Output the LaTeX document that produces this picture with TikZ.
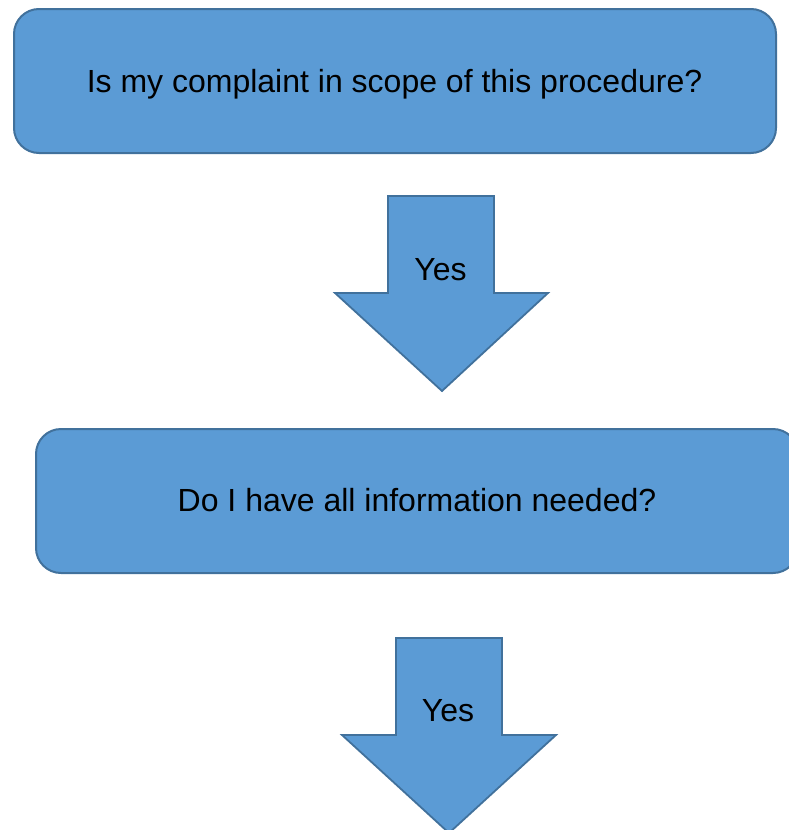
\documentclass[tikz,border=0pt]{standalone}
\usepackage{fontspec}
\setmainfont{Liberation Sans}
\definecolor{boxfill}{HTML}{5B9BD5}
\definecolor{boxline}{HTML}{41719C}
\begin{document}
\begin{tikzpicture}[x=1pt,y=-1pt,
  box/.style={draw=boxline,fill=boxfill,line width=2pt,rounded corners=25pt},
  blockarrow/.style={draw=boxline,fill=boxfill,line width=1.8pt,line join=miter},
  lbl/.style={font=\fontsize{32}{38}\selectfont,text=black,inner sep=0pt,anchor=base}]
\useasboundingbox (0,0) rectangle (789,830);
% box 1
\draw[box] (14,9) rectangle (776,153);
\node[lbl] (q1) at (394.5,92) {Is my complaint in scope of this procedure?};
% arrow 1
\draw[blockarrow] (388,196) -- (494,196) -- (494,293) -- (548,293) -- (442,391) -- (335,293) -- (388,293) -- cycle;
\node[lbl] (y1) at (440.5,280) {Yes};
% box 2
\draw[box] (36,429) rectangle (798,573);
\node[lbl] (q2) at (417,511) {Do I have all information needed?};
% arrow 2
\draw[blockarrow] (396,638) -- (502,638) -- (502,735) -- (556,735) -- (449,833) -- (342,735) -- (396,735) -- cycle;
\node[lbl] (y2) at (448,721) {Yes};
\end{tikzpicture}
\end{document}
